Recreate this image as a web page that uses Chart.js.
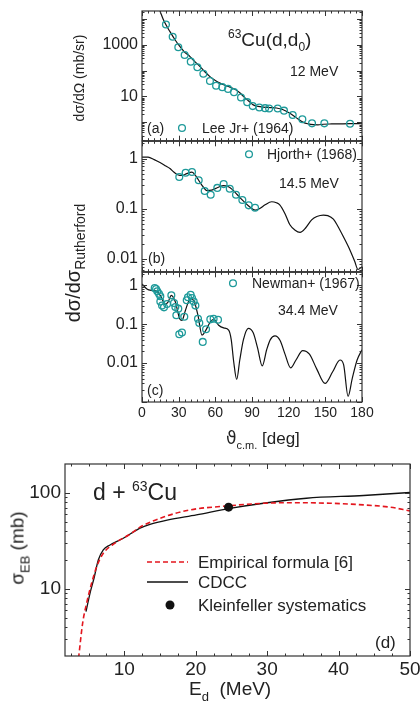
<!DOCTYPE html>
<html>
<head>
<meta charset="utf-8">
<script src="https://cdn.jsdelivr.net/npm/chart.js@4.4.1/dist/chart.umd.min.js"></script>
<style>
body { margin: 0; background: #fff; }
#wrap { position: relative; width: 420px; height: 706px; overflow: hidden; font-family: "Liberation Sans", Arial, sans-serif; color: #222; }
canvas { position: absolute; left: 0; }
.t { position: absolute; white-space: nowrap; line-height: 1; transform: translateY(-50%); }
.r { position: absolute; white-space: nowrap; line-height: 1; transform: translate(-50%, -50%) rotate(-90deg); }
.up, .dn { position: relative; }
</style>
</head>
<body>
<div id="wrap">
  <canvas id="ca" width="420" height="146" style="top:0"></canvas>
  <canvas id="cb" width="420" height="141" style="top:136px"></canvas>
  <canvas id="cc" width="420" height="160" style="top:267px"></canvas>
  <canvas id="cd" width="420" height="251" style="top:455px"></canvas>

  <div class="t" style="left:228px;top:39px;font-size:19px"><span class="up" style="font-size:12px;top:-8px">63</span>Cu(d,d<span class="dn" style="font-size:12px;top:5px">0</span>)</div>
  <div class="t" style="left:290px;top:71px;font-size:14px">12 MeV</div>
  <div class="t" style="left:147px;top:128px;font-size:14px">(a)</div>
  <div class="t" style="left:279px;top:183px;font-size:14px">14.5 MeV</div>
  <div class="t" style="left:148px;top:258px;font-size:14px">(b)</div>
  <div class="t" style="left:278px;top:310px;font-size:14px">34.4 MeV</div>
  <div class="t" style="left:147px;top:390px;font-size:14px">(c)</div>
  <div class="t" style="left:226px;top:438px;font-size:17px"><span style="font-family:'DejaVu Sans'">&#977;</span><span class="dn" style="font-size:11px;top:5px">c.m.</span> [deg]</div>
  <div class="r" style="left:79px;top:78px;font-size:14px">d&sigma;/d&Omega; (mb/sr)</div>
  <div class="r" style="left:73px;top:263px;font-size:20px">d&sigma;/d&sigma;<span class="dn" style="font-size:14px;top:5px">Rutherford</span></div>

  <div class="t" style="left:93px;top:492px;font-size:23px">d + <span class="up" style="font-size:14px;top:-9px">63</span>Cu</div>
  <div class="t" style="left:375px;top:642px;font-size:17px">(d)</div>
  <div class="t" style="left:189px;top:688px;font-size:19px">E<span class="dn" style="font-size:13px;top:6px">d</span> &nbsp;(MeV)</div>
  <div class="r" style="left:17px;top:548px;font-size:19px">&sigma;<span class="dn" style="font-size:13px;top:6px">EB</span> (mb)</div>
</div>
<script>
// (a) 63Cu(d,d0) 12 MeV, Lee Jr+ (1964), mb/sr
const angA = [19.6, 25.1, 29.7, 34.9, 39.9, 45.3, 50.2, 55.6, 60.6, 65.7, 70.4, 75.3, 81.0, 86.1, 90.6, 96.0, 100.7, 104.0, 111.0, 116.2, 123.3, 131.2, 139.1, 149.2, 170.2];
const valA = [6300, 2100, 820, 410, 225, 137, 76, 40, 26, 23, 19.6, 14.7, 9.1, 6.0, 4.2, 3.7, 3.5, 3.4, 3.4, 2.8, 1.9, 1.3, 0.9, 0.9, 0.87];
const fitAngA = [14.7, 18, 22.9, 27, 31.1, 35, 39.3, 43, 47.5, 51, 55.6, 60, 63.8, 68, 72, 76, 80, 83, 87, 91, 95, 99.3, 105, 110, 115, 121, 126, 132, 136, 140.2, 144, 148.4, 155, 162, 170, 180];
const fitValA = [21000, 8500, 3300, 1600, 860, 520, 355, 230, 145, 95, 59, 42, 33, 27, 23, 19, 14, 10, 6.8, 4.7, 4.1, 3.85, 3.7, 3.55, 3.1, 2.2, 1.5, 0.98, 0.86, 0.8, 0.79, 0.83, 0.85, 0.86, 0.87, 0.87];

// (b) 14.5 MeV, Hjorth+ (1968), ratio to Rutherford
const angB = [30.5, 35.7, 40.9, 46.4, 51.3, 56.2, 61.6, 66.8, 71.8, 76.9, 82.1, 87.3, 92.5];
const valB = [0.43, 0.52, 0.54, 0.37, 0.225, 0.19, 0.26, 0.31, 0.25, 0.19, 0.15, 0.117, 0.105];
const fitAngB = [0, 5, 10, 14.7, 19, 22.9, 26, 29.7, 32.7, 36.6, 40.9, 44, 48.8, 53.2, 57, 62, 66.8, 70, 74, 78, 82, 87, 92.7, 96, 100.7, 106.1, 110, 112.7, 117, 121, 125, 129.3, 134, 138.8, 143, 148.4, 152, 156.6, 160, 164.7, 170.2, 174, 176.7, 180];
const fitValB = [1.07, 1.07, 0.95, 0.83, 0.72, 0.63, 0.54, 0.47, 0.46, 0.5, 0.535, 0.45, 0.3, 0.23, 0.235, 0.265, 0.29, 0.28, 0.24, 0.19, 0.15, 0.115, 0.094, 0.1, 0.12, 0.138, 0.132, 0.12, 0.08, 0.048, 0.038, 0.034, 0.042, 0.06, 0.07, 0.075, 0.073, 0.062, 0.046, 0.028, 0.015, 0.009, 0.0062, 0.007];

// (c) 34.4 MeV, Newman+ (1967)
const angC = [10.4, 11.5, 12.5, 13.9, 15.0, 15.0, 16.4, 18.0, 20.5, 24.0, 26.2, 27.3, 28.1, 29.7, 30.5, 32.7, 34.6, 36.6, 37.6, 39.8, 40.9, 42.3, 43.7, 45.8, 46.9, 49.7, 52.4, 55.9, 58.6, 62.2];
const valC = [0.85, 0.80, 0.70, 0.60, 0.52, 0.38, 0.30, 0.27, 0.33, 0.55, 0.35, 0.275, 0.17, 0.25, 0.055, 0.061, 0.155, 0.41, 0.49, 0.57, 0.47, 0.38, 0.30, 0.138, 0.107, 0.035, 0.074, 0.133, 0.138, 0.13];
const fitAngC = [0, 4, 8.2, 12.3, 16.4, 18.5, 21.3, 24, 27.3, 30.8, 32.7, 35.5, 39.6, 42.3, 45.8, 49.1, 51.8, 55.9, 58.6, 62.7, 66.8, 70.9, 73, 75, 77.5, 80, 83, 87, 91, 94.5, 98.4, 102, 105, 108.8, 113, 117, 121.6, 126, 131.5, 137, 143, 149.8, 156, 162, 165, 168.6, 172, 176, 180];
const fitValC = [1.08, 0.80, 0.73, 0.69, 0.45, 0.32, 0.37, 0.55, 0.37, 0.138, 0.125, 0.225, 0.45, 0.41, 0.168, 0.052, 0.066, 0.114, 0.133, 0.094, 0.08, 0.07, 0.04, 0.011, 0.0038, 0.012, 0.04, 0.078, 0.06, 0.025, 0.0085, 0.022, 0.04, 0.05, 0.038, 0.017, 0.0075, 0.012, 0.021, 0.017, 0.007, 0.003, 0.006, 0.012, 0.009, 0.0014, 0.004, 0.012, 0.022];

// (d) d + 63Cu elastic breakup, mb
const eCdcc = [4.64, 5.2, 5.76, 6.36, 7.06, 8.0, 9.86, 12.2, 13.6, 16, 20.1, 24.8, 29.5, 35.5, 43.5, 50];
const sCdcc = [5.8, 9.0, 12.9, 20, 25.5, 28.7, 33.7, 43, 47, 52, 59, 69, 78, 88, 94, 101];
const eEmp = [3.6, 4.17, 4.73, 5.43, 6.13, 7.06, 8.7, 11, 12.2, 15.5, 19.2, 24.3, 29.5, 34.1, 38.8, 43.5, 47.2, 50];
const sEmp = [1.9, 4.4, 7.1, 11.5, 17, 23.5, 30, 38, 44, 56, 66.5, 73, 78, 79, 78, 75, 71, 65];
const eKlein = [24.6];
const sKlein = [71];

const angTicks = [0, 30, 60, 90, 120, 150, 180];
const yTicksA = [1, 10, 100, 1000, 10000];
const yLabelsA = ['', '10', '', '1000', ''];
const yTicksBC = [0.01, 0.1, 1];
const yLabelsBC = ['0.01', '0.1', '1'];
const eTicks = [10, 20, 30, 40, 50];
const yTicksD = [10, 100];
const yLabelsD = ['10', '100'];

const TEAL = '#1e9a9a';
Chart.defaults.font.family = '"Liberation Sans", Arial, sans-serif';
Chart.defaults.color = '#222';

function pts(xs, ys) { return xs.map((x, i) => ({ x: x, y: ys[i] })); }
function steps(a, b, s) { const out = []; for (let v = a; v <= b + 1e-9; v += s) out.push(+v.toFixed(4)); return out; }
function logMinor(min, max) {
    const out = [];
    for (let e = Math.floor(Math.log10(min)); e <= Math.ceil(Math.log10(max)); e++) {
        for (let m = 2; m <= 9; m++) { const v = m * Math.pow(10, e); if (v > min && v < max) out.push(v); }
    }
    return out;
}
function logMajor(min, max) {
    const out = [];
    for (let e = Math.ceil(Math.log10(min)); e <= Math.floor(Math.log10(max)); e++) out.push(Math.pow(10, e));
    return out;
}

// box with inward ticks on all sides, plus hand placed legend entries
const frame = {
    id: 'frame',
    afterDraw(chart, args, o) {
        const { ctx, chartArea: a } = chart;
        const sx = chart.scales.x, sy = chart.scales.y;
        ctx.save();
        ctx.strokeStyle = '#333';
        ctx.lineWidth = 1;
        ctx.beginPath();
        const tick = (vals, len, horiz) => vals.forEach(v => {
            if (horiz) {
                const p = Math.round(sx.getPixelForValue(v)) + 0.5;
                ctx.moveTo(p, a.bottom); ctx.lineTo(p, a.bottom - len);
                ctx.moveTo(p, a.top); ctx.lineTo(p, a.top + len);
            } else {
                const p = Math.round(sy.getPixelForValue(v)) + 0.5;
                ctx.moveTo(a.left, p); ctx.lineTo(a.left + len, p);
                ctx.moveTo(a.right, p); ctx.lineTo(a.right - len, p);
            }
        });
        tick(o.xMajor, 5, true);
        tick(o.xMinor, 2.5, true);
        tick(o.yMajor, 5, false);
        tick(o.yMinor, 2.5, false);
        ctx.stroke();
        ctx.lineWidth = 1.2;
        ctx.strokeRect(a.left, a.top, a.right - a.left, a.bottom - a.top);

        ctx.font = o.font + 'px "Liberation Sans", Arial, sans-serif';
        ctx.textBaseline = 'middle';
        ctx.fillStyle = '#222';
        (o.items || []).forEach(it => {
            const x = a.left + it.x, y = a.top + it.y;
            ctx.save();
            if (it.type === 'circle') {
                ctx.strokeStyle = TEAL; ctx.lineWidth = 1.3;
                ctx.beginPath(); ctx.arc(x, y, 3.4, 0, Math.PI * 2); ctx.stroke();
            } else if (it.type === 'dot') {
                ctx.fillStyle = '#111';
                ctx.beginPath(); ctx.arc(x, y, 4.5, 0, Math.PI * 2); ctx.fill();
            } else {
                ctx.strokeStyle = it.type === 'dash' ? '#e3161e' : '#111';
                ctx.lineWidth = it.type === 'dash' ? 1.6 : 1.4;
                if (it.type === 'dash') ctx.setLineDash([5, 3]);
                ctx.beginPath(); ctx.moveTo(x, y); ctx.lineTo(x + it.w, y); ctx.stroke();
            }
            ctx.restore();
            ctx.fillText(it.text, a.left + it.tx, y + 1);
        });
        ctx.restore();
    }
};

function panel(id, c) {
    return new Chart(document.getElementById(id), {
        type: 'scatter',
        data: {
            datasets: [
                { data: pts(c.ang, c.val), showLine: false, pointRadius: 3.4, pointBorderWidth: 1.3, pointBorderColor: TEAL, pointBackgroundColor: 'rgba(0,0,0,0)' },
                { data: pts(c.fitAng, c.fitVal), showLine: true, pointRadius: 0, borderColor: '#111', borderWidth: 1.2, cubicInterpolationMode: 'monotone' }
            ]
        },
        options: {
            responsive: false,
            animation: false,
            events: [],
            layout: { padding: { top: c.padTop, bottom: c.padBottom, left: 0, right: 58 } },
            plugins: {
                legend: { display: false },
                tooltip: { enabled: false },
                frame: {
                    xMajor: angTicks, xMinor: steps(0, 180, 5).filter(v => v % 30 !== 0),
                    yMajor: logMajor(c.min, c.max), yMinor: logMinor(c.min, c.max),
                    font: 14, items: c.items
                }
            },
            scales: {
                x: {
                    type: 'linear', min: 0, max: 180, display: c.showX,
                    grid: { display: false, drawTicks: false }, border: { display: false },
                    afterBuildTicks: s => { s.ticks = angTicks.map(v => ({ value: v })); },
                    afterFit: s => { s.height = c.showX ? 25 : 0; s.paddingLeft = 0; s.paddingRight = 0; },
                    ticks: { padding: 3, font: { size: 14 }, maxRotation: 0, autoSkip: false }
                },
                y: {
                    type: 'logarithmic', min: c.min, max: c.max,
                    grid: { display: false, drawTicks: false }, border: { display: false },
                    afterBuildTicks: s => { s.ticks = c.yTicks.map(v => ({ value: v })); },
                    afterFit: s => { s.width = 142; s.paddingTop = 0; s.paddingBottom = 0; },
                    ticks: { padding: 4, font: { size: 16 }, autoSkip: false, callback: (v, i) => c.yLabels[i] }
                }
            }
        },
        plugins: [frame]
    });
}

panel('ca', {
    ang: angA, val: valA, fitAng: fitAngA, fitVal: fitValA,
    min: 0.19, max: 21000, yTicks: yTicksA, yLabels: yLabelsA,
    padTop: 11, padBottom: 5, showX: false,
    items: [{ type: 'circle', x: 40, y: 117, tx: 60, text: 'Lee Jr+ (1964)' }]
});
panel('cb', {
    ang: angB, val: valB, fitAng: fitAngB, fitVal: fitValB,
    min: 0.0056, max: 2.2, yTicks: yTicksBC, yLabels: yLabelsBC,
    padTop: 5, padBottom: 5, showX: false,
    items: [{ type: 'circle', x: 107, y: 13, tx: 125, text: 'Hjorth+ (1968)' }]
});
panel('cc', {
    ang: angC, val: valC, fitAng: fitAngC, fitVal: fitValC,
    min: 0.001, max: 2.15, yTicks: yTicksBC, yLabels: yLabelsBC,
    padTop: 5, padBottom: 0, showX: true,
    items: [{ type: 'circle', x: 91, y: 11, tx: 110, text: 'Newman+ (1967)' }]
});

new Chart(document.getElementById('cd'), {
    type: 'scatter',
    data: {
        datasets: [
            { data: pts(eKlein, sKlein), showLine: false, pointRadius: 4.5, pointBorderWidth: 0, pointBackgroundColor: '#111' },
            { data: pts(eEmp, sEmp), showLine: true, pointRadius: 0, borderColor: '#e3161e', borderWidth: 1.6, borderDash: [5, 3], cubicInterpolationMode: 'monotone' },
            { data: pts(eCdcc, sCdcc), showLine: true, pointRadius: 0, borderColor: '#111', borderWidth: 1.3, cubicInterpolationMode: 'monotone' }
        ]
    },
    options: {
        responsive: false,
        animation: false,
        events: [],
        layout: { padding: { top: 9, bottom: 0, left: 0, right: 10 } },
        plugins: {
            legend: { display: false },
            tooltip: { enabled: false },
            frame: {
                xMajor: eTicks, xMinor: steps(2.5, 47.5, 2.5).filter(v => v % 10 !== 0),
                yMajor: logMajor(2, 200), yMinor: logMinor(2, 200),
                font: 17,
                items: [
                    { type: 'dash', x: 82, y: 98, w: 41, tx: 133, text: 'Empirical formula [6]' },
                    { type: 'line', x: 82, y: 118, w: 41, tx: 133, text: 'CDCC' },
                    { type: 'dot', x: 105, y: 141, tx: 133, text: 'Kleinfeller systematics' }
                ]
            }
        },
        scales: {
            x: {
                type: 'linear', min: 1.7, max: 50,
                grid: { display: false, drawTicks: false }, border: { display: false },
                afterBuildTicks: s => { s.ticks = eTicks.map(v => ({ value: v })); },
                afterFit: s => { s.height = 50; s.paddingLeft = 0; s.paddingRight = 0; },
                ticks: { padding: 2, font: { size: 19 }, maxRotation: 0, autoSkip: false }
            },
            y: {
                type: 'logarithmic', min: 2, max: 200,
                grid: { display: false, drawTicks: false }, border: { display: false },
                afterBuildTicks: s => { s.ticks = yTicksD.map(v => ({ value: v })); },
                afterFit: s => { s.width = 65; s.paddingTop = 0; s.paddingBottom = 0; },
                ticks: { padding: 4, font: { size: 19 }, autoSkip: false, callback: (v, i) => yLabelsD[i] }
            }
        }
    },
    plugins: [frame]
});
</script>
</body>
</html>
